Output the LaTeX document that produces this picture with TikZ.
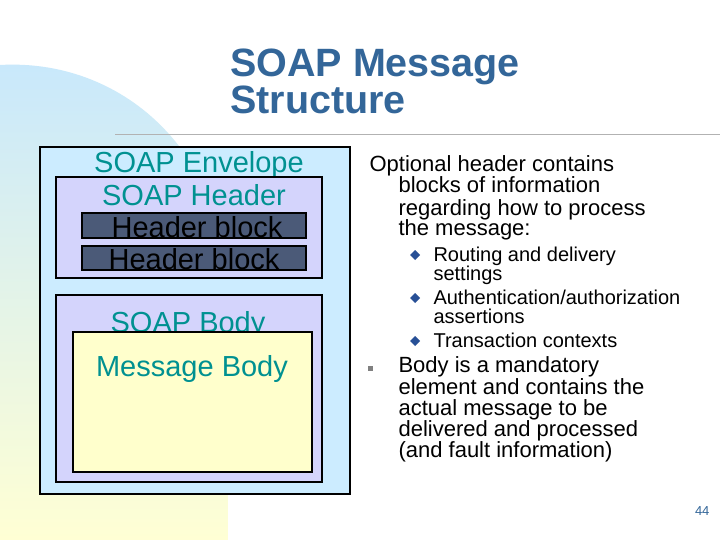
\documentclass[tikz,border=0pt]{standalone}
\usepackage{fontspec}
\setmainfont{Liberation Sans}
\begin{document}
\begin{tikzpicture}[x=1pt,y=-1pt,
  box/.style={draw=black,line width=2.2pt},
  teal/.style={text=tealc,font=\fontsize{29}{29}\selectfont,anchor=base},
  hb/.style={box,fill=hbfill},
  main/.style={anchor=base west,font=\fontsize{22}{22}\selectfont},
  sub/.style={anchor=base west,font=\fontsize{20}{20}\selectfont},
  dia/.style={fill=diac,draw=none}]
\definecolor{tealc}{RGB}{0,145,145}
\definecolor{hbfill}{RGB}{75,90,120}
\definecolor{envc}{RGB}{204,236,255}
\definecolor{hdrc}{RGB}{212,212,252}
\definecolor{msgc}{RGB}{255,255,204}
\definecolor{titc}{RGB}{51,102,153}
\definecolor{diac}{RGB}{40,80,150}
\useasboundingbox (0,0) rectangle (720,540);
\fill[white] (0,0) rectangle (720,540);
\shade[top color={rgb,255:red,200;green,232;blue,252},bottom color={rgb,255:red,255;green,255;blue,212}]
  (0,65) .. controls (120,58) and (228,150) .. (228,300) -- (228,540) -- (0,540) -- cycle;
\draw[gray!60,line width=1pt] (115,135) -- (720,135);
\node[anchor=north west,text=titc,font=\bfseries\fontsize{39.5}{31}\selectfont,inner sep=0pt,align=left] (title) at (230,48.5) {SOAP Message\\Structure};
\draw[box,fill=envc] (40,147) rectangle (350,494);
\node[teal] (env) at (199,173) {SOAP Envelope};
\draw[box,fill=hdrc] (56,177) rectangle (322,278);
\node[teal] (hdr) at (194,206) {SOAP Header};
\draw[hb] (82,213) rectangle (306,238);
\node[teal,text=black] (hb1) at (197,237) {Header block};
\draw[hb] (82,246) rectangle (306,270);
\node[teal,text=black] (hb2) at (194,269) {Header block};
\draw[box,fill=hdrc] (56,295) rectangle (322,482);
\node[teal] (bdy) at (188,332) {SOAP Body};
\draw[box,fill=msgc] (73,332) rectangle (312,472);
\node[teal] (msg) at (192,376) {Message Body};
\node[main] (l1) at (366,172) {Optional header contains};
\node[main] (l2) at (395,193) {blocks of information};
\node[main] (l3) at (395,215) {regarding how to process};
\node[main] (l4) at (395,236) {the message:};
\foreach \y in {255,298,341} \fill[dia] (415,\y-5) -- (420,\y) -- (415,\y+5) -- (410,\y) -- cycle;
\node[sub] (s1) at (430,261) {Routing and delivery};
\node[sub] (s2) at (430,280) {settings};
\node[sub] (s3) at (430,304) {Authentication/authorization};
\node[sub] (s4) at (430,323) {assertions};
\node[sub] (s5) at (430,347) {Transaction contexts};
\fill[gray] (368,366) rectangle (373,371);
\node[main] (b1) at (395,372) {Body is a mandatory};
\node[main] (b2) at (395,394) {element and contains the};
\node[main] (b3) at (395,415) {actual message to be};
\node[main] (b4) at (395,436) {delivered and processed};
\node[main] (b5) at (395,457) {(and fault information)};
\node[anchor=base east,text=titc,font=\fontsize{13}{13}\selectfont] (pg) at (713,515) {44};
\end{tikzpicture}
\end{document}
